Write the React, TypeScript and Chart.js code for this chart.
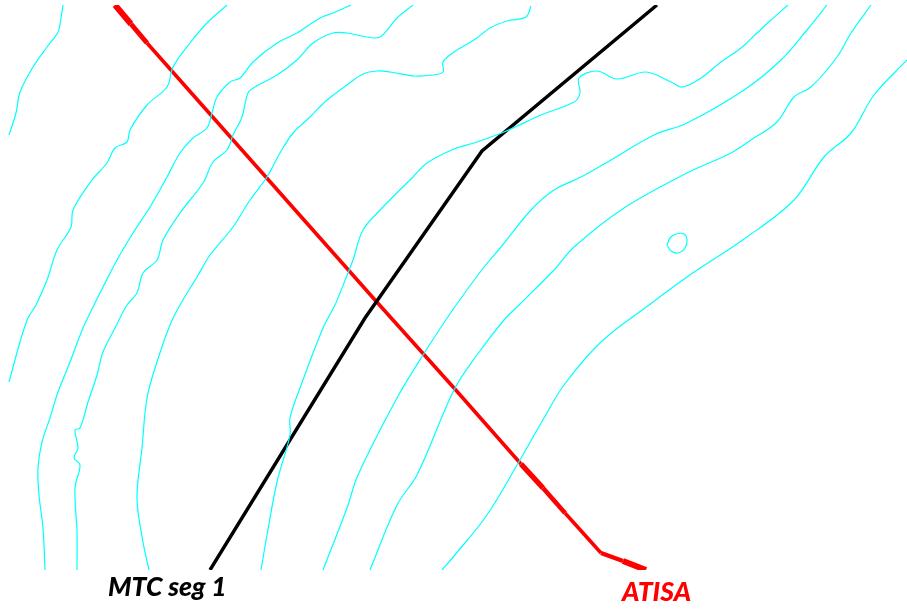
import React, { useEffect, useRef } from "react";
import { Chart, registerables } from "chart.js";

Chart.register(...registerables);

type P = [number, number];

const contourA: P[] = [[63,5],[61,18],[58,32],[47,47],[33,67],[20,92],[16,113],[9,135]];
const contourB: P[] = [[227,5],[207,23],[190,43],[173,67],[167,87],[147,105],[130,130],[127,142],[115,148],[107,163],[92,180],[73,210],[71,227],[57,250],[47,280],[36,305],[28,318],[20,342],[9,382]];
const contourC: P[] = [[351,5],[333,13],[320,18],[297,33],[277,43],[253,62],[240,78],[230,82],[217,97],[212,113],[207,128],[193,138],[180,153],[167,177],[150,207],[133,233],[117,260],[103,287],[94,305],[83,328],[70,362],[58,392],[50,418],[42,442],[38,468],[39,495],[43,528],[45,570]];
const contourD: P[] = [[413,5],[397,18],[380,37],[367,37],[347,33],[333,33],[313,43],[297,60],[277,75],[255,87],[248,93],[242,117],[233,135],[227,150],[213,162],[203,183],[180,213],[163,240],[157,260],[143,273],[137,293],[127,305],[115,328],[103,352],[97,375],[88,402],[80,428],[75,430],[78,448],[74,458],[80,465],[75,488],[77,532],[77,570]];
const contourE: P[] = [[531,6],[526,17],[507,21],[490,28],[474,40],[454,52],[443,62],[443,72],[433,75],[415,76],[390,72],[377,71],[363,74],[347,85],[327,100],[310,117],[293,133],[280,153],[267,177],[250,200],[233,227],[210,255],[197,277],[180,305],[170,325],[157,362],[147,398],[142,448],[137,498],[143,542],[149,570]];
const contourF: P[] = [[788,5],[771,20],[757,33],[741,48],[721,62],[701,78],[682,87],[671,82],[646,72],[617,79],[597,71],[579,78],[580,93],[574,102],[541,115],[504,132],[474,143],[454,149],[427,163],[413,177],[383,207],[363,230],[353,260],[340,293],[335,305],[323,328],[300,388],[290,418],[290,435],[277,482],[267,535],[261,570]];
const contourG: P[] = [[827,5],[807,30],[781,60],[744,90],[687,123],[654,135],[611,160],[581,177],[554,190],[531,210],[501,247],[484,267],[454,308],[423,355],[397,398],[358,475],[347,508],[323,570]];
const contourH: P[] = [[871,5],[851,33],[837,57],[811,87],[794,97],[777,122],[751,140],[731,153],[687,173],[624,208],[574,247],[554,270],[519,305],[504,320],[477,355],[454,390],[417,475],[397,505],[370,570]];
const contourI: P[] = [[907,60],[874,95],[851,133],[824,157],[794,200],[747,237],[687,277],[649,305],[601,342],[564,385],[544,418],[517,465],[487,515],[454,556],[442,570]];
const contourLoop: P[] = [[667,245],[670,238],[676,234],[684,234],[687,240],[685,248],[678,253],[671,251],[667,245]];

const mtcSeg1: P[] = [[657,5],[482,151],[365,318],[210,570]];
const atisa: P[] = [[115,5],[131,24],[147,43],[375,300],[454,388],[521,464],[543,488],[565,513],[601,553],[623,561],[646,570]];

const contours = [contourA, contourB, contourC, contourD, contourE, contourF, contourG, contourH, contourI, contourLoop];

const labelTexts = ["MTC seg 1", "ATISA"];
const labelX = [108, 622];
const labelY = [596, 601];

const toPoints = (pts: P[]) => pts.map(([x, y]) => ({ x, y }));

export default function App() {
  const ref = useRef<HTMLCanvasElement>(null);
  useEffect(() => {
    const labelPlugin = {
      id: "lineLabels",
      afterDraw(chart: any) {
        const { ctx, scales } = chart;
        ctx.save();
        ctx.font = "italic 900 26.6px Lato";
        ctx.textBaseline = "alphabetic";
        labelTexts.forEach((t, i) => {
          ctx.fillStyle = i === 0 ? "#000000" : "#ff0000";
          ctx.fillText(t, scales.x.getPixelForValue(labelX[i]), scales.y.getPixelForValue(labelY[i]));
        });
        ctx.restore();
      },
    };
    const redWidths = [6, 5, 3.6, 3.6, 3.6, 5.4, 4.6, 3.6, 4.4, 6];
    const chart = new Chart(ref.current as HTMLCanvasElement, {
      type: "scatter",
      plugins: [labelPlugin],
      data: {
        datasets: [
          ...contours.map((c) => ({
            data: toPoints(c),
            showLine: true,
            borderColor: "#00ffff",
            borderWidth: 1.2,
            pointRadius: 0,
            tension: 0.35,
          })),
          {
            data: toPoints(mtcSeg1),
            showLine: true,
            borderColor: "#000000",
            borderWidth: 3.4,
            pointRadius: 0,
          },
          {
            data: toPoints(atisa),
            showLine: true,
            borderColor: "#ff0000",
            borderWidth: 3.6,
            pointRadius: 0,
            segment: {
              borderWidth: (c: any) => redWidths[c.p0DataIndex],
            },
          },
        ] as any,
      },
      options: {
        animation: false,
        responsive: false,
        devicePixelRatio: 1,
        layout: { padding: { top: 5, bottom: 41, left: 0, right: 0 } },
        plugins: { legend: { display: false }, tooltip: { enabled: false } },
        scales: {
          x: { type: "linear", min: 0, max: 907, display: false },
          y: { type: "linear", min: 5, max: 570, reverse: true, display: false },
        },
      } as any,
    });
    return () => chart.destroy();
  }, []);
  return (
    <div style={{ position: "absolute", left: 0, top: 0, width: 907, height: 611, background: "#ffffff" }}>
      <canvas ref={ref} width={907} height={611} style={{ display: "block" }} />
    </div>
  );
}
